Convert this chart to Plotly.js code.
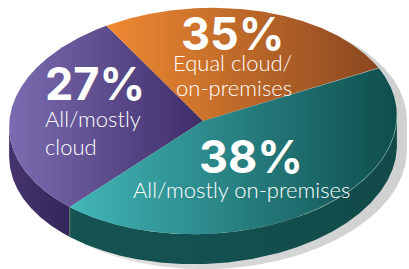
<!DOCTYPE html>
<html><head><meta charset="utf-8">
<script src="https://cdn.plot.ly/plotly-3.0.1.min.js"></script>
<style>html,body{margin:0;padding:0;background:#fff;overflow:hidden}#chart{width:409px;height:269px}</style>
</head><body><div id="chart"></div>
<script>
// ---- data ----
const categories = ['All/mostly cloud', 'Equal cloud/on-premises', 'All/mostly on-premises'];
const values = [27, 35, 38];
const percentLabels = ['27%', '35%', '38%'];
const descriptionLines = [['All/mostly', 'cloud'], ['Equal cloud/', 'on-premises'], ['All/mostly on-premises']];

// ---- style / layout ----
const topColors = [['#7b6cb1', '#3e2d68'], ['#f08a32', '#8a4720'], ['#42b6b8', '#0f4d4d']];
const sideColors = [['#45346e', '#34265b'], ['#7a3d18', '#6a3414'], ['#155453', '#114a49']];
const geom = {cx: 203, cy: 121, rx: 194, ry: 113, depth: 30, rot: 2.5, warpA: 16.65, warpB: -5.61, startAngle: 231.2};
const shadowOffset = [10, 5];
const labelPos = [
  {pct: [44, 83, 'left'], lines: [[44, 118.5, 'left'], [44, 146.5, 'left']]},
  {pct: [232.5, 33, 'center'], lines: [[232.5, 62.5, 'center'], [233.5, 87.5, 'center']]},
  {pct: [250.5, 156, 'center'], lines: [[241.5, 189.5, 'center']]}
];
const pctFont = {family: 'Inter, Lato, sans-serif', size: 45, weight: 700, color: '#ffffff'};
const lineFont = {family: 'Lato, "Open Sans", sans-serif', size: 22, weight: 300, color: '#ffffff'};

const D2R = Math.PI / 180;
function warp(phi) { const p = phi * D2R; return phi + geom.warpA * Math.cos(p) + geom.warpB * Math.sin(p); }
function projPsi(psi, dz) {
  const q = psi * D2R, r = geom.rot * D2R;
  const ex = geom.rx * Math.cos(q), ey = -geom.ry * Math.sin(q);
  return [geom.cx + ex * Math.cos(r) + ey * Math.sin(r), geom.cy - ex * Math.sin(r) + ey * Math.cos(r) + dz];
}
const psiR = -Math.atan2(geom.ry * Math.sin(geom.rot * D2R), geom.rx * Math.cos(geom.rot * D2R)) / D2R;
const psiL = psiR + 180;
function norm(a) { return ((a % 360) + 360) % 360; }
function visible(psi) { const n = norm(psi - psiL); return n <= 180; }

const total = values.reduce((a, b) => a + b, 0);
const slices = [];
let acc = geom.startAngle;
values.forEach((v, i) => { const span = 360 * v / total; slices.push({i, a0: acc, a1: acc - span}); acc -= span; });

const traces = [];
// shadow
(function () {
  const xs = [], ys = [];
  for (let s = psiR; s <= psiL + 1e-9; s += 0.5) { const p = projPsi(s, 0); xs.push(p[0] + shadowOffset[0]); ys.push(p[1] + shadowOffset[1]); }
  for (let s = psiL; s <= psiL + 180 + 1e-9; s += 0.5) { const p = projPsi(s, geom.depth); xs.push(p[0] + shadowOffset[0]); ys.push(p[1] + shadowOffset[1]); }
  traces.push({type: 'scatter', mode: 'lines', x: xs, y: ys, fill: 'toself', line: {width: 0},
    fillgradient: {type: 'horizontal', colorscale: [[0, '#eeeeee'], [0.45, '#d8d8d8'], [1, '#cfd0d0']]}, hoverinfo: 'skip'});
})();
// sides
slices.forEach(sl => {
  const runs = []; let cur = null;
  const n = Math.ceil(Math.abs(sl.a0 - sl.a1) / 0.2);
  for (let k = 0; k <= n; k++) {
    const phi = sl.a0 + (sl.a1 - sl.a0) * k / n;
    const psi = warp(phi);
    if (visible(psi)) { if (!cur) { cur = []; runs.push(cur); } cur.push(psi); } else cur = null;
  }
  runs.forEach(run => {
    if (run.length < 2) return;
    const xs = [], ys = [];
    run.forEach(s => { const p = projPsi(s, 0); xs.push(p[0]); ys.push(p[1]); });
    for (let k = run.length - 1; k >= 0; k--) { const p = projPsi(run[k], geom.depth); xs.push(p[0]); ys.push(p[1]); }
    traces.push({type: 'scatter', mode: 'lines', x: xs, y: ys, fill: 'toself', line: {width: 0},
      fillgradient: {type: 'horizontal', colorscale: [[0, sideColors[sl.i][0]], [1, sideColors[sl.i][1]]]}, hoverinfo: 'skip'});
  });
});
// junction line on side between slices
slices.forEach(sl => {
  const psi = warp(sl.a0);
  if (visible(psi)) {
    const p0 = projPsi(psi, 0), p1 = projPsi(psi, geom.depth);
    traces.push({type: 'scatter', mode: 'lines', x: [p0[0], p1[0]], y: [p0[1], p1[1]], line: {width: 1, color: '#62805c'}, hoverinfo: 'skip'});
  }
});
// tops
slices.forEach(sl => {
  const xs = [geom.cx], ys = [geom.cy];
  const n = Math.ceil(Math.abs(sl.a0 - sl.a1) / 0.25);
  for (let k = 0; k <= n; k++) { const p = projPsi(warp(sl.a0 + (sl.a1 - sl.a0) * k / n), 0); xs.push(p[0]); ys.push(p[1]); }
  xs.push(geom.cx); ys.push(geom.cy);
  traces.push({type: 'scatter', mode: 'lines', x: xs, y: ys, fill: 'toself', line: {width: 0},
    fillgradient: {type: 'horizontal', colorscale: [[0, topColors[sl.i][0]], [1, topColors[sl.i][1]]]}, hoverinfo: 'skip'});
});
// highlight rim on right front edge
(function () {
  const xs = [], ys = [];
  for (let s = psiR + 360; s >= 300; s -= 0.5) { const p = projPsi(s, 0); xs.push(p[0]); ys.push(p[1]); }
  traces.push({type: 'scatter', mode: 'lines', x: xs, y: ys, line: {width: 0.8, color: 'rgba(190,225,220,0.55)'}, hoverinfo: 'skip'});
})();

const annotations = [];
values.forEach((v, i) => {
  const lp = labelPos[i];
  annotations.push({x: lp.pct[0], y: lp.pct[1], xref: 'x', yref: 'y', text: percentLabels[i], showarrow: false,
    xanchor: lp.pct[2], yanchor: 'middle', borderpad: 0, font: pctFont});
  descriptionLines[i].forEach((t, j) => {
    const q = lp.lines[j];
    annotations.push({x: q[0], y: q[1], xref: 'x', yref: 'y', text: t, showarrow: false,
      xanchor: q[2], yanchor: 'middle', borderpad: 0, font: lineFont});
  });
});

const layout = {
  width: 409, height: 269, margin: {l: 0, r: 0, t: 0, b: 0},
  paper_bgcolor: '#ffffff', plot_bgcolor: '#ffffff', showlegend: false,
  xaxis: {range: [0, 409], visible: false, fixedrange: true},
  yaxis: {range: [269, 0], visible: false, fixedrange: true},
  annotations
};
Plotly.newPlot('chart', traces, layout, {staticPlot: true, displayModeBar: false});
</script></body></html>
